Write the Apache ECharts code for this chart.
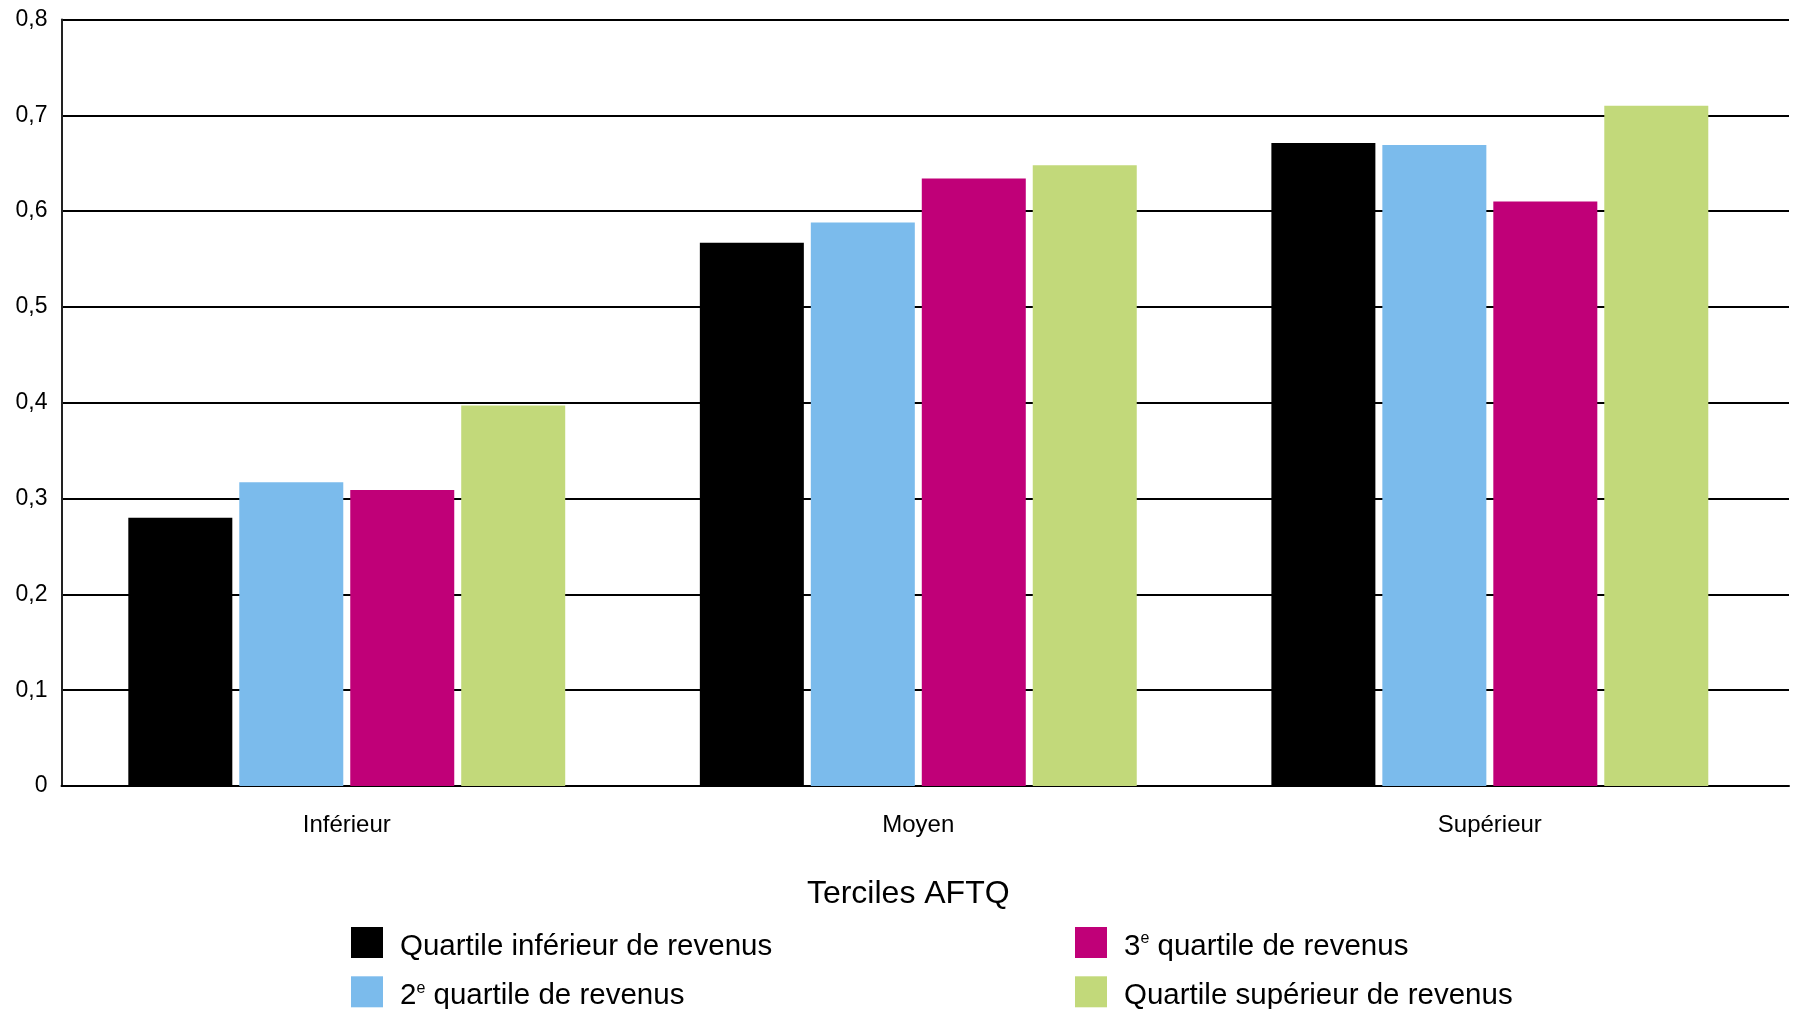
<!DOCTYPE html>
<html>
<head>
<meta charset="utf-8">
<title>Terciles AFTQ</title>
<script src="https://cdn.jsdelivr.net/npm/echarts@6/dist/echarts.min.js"></script>
<style>
  html, body { margin: 0; padding: 0; background: #fff; }
  #chart { width: 1795px; height: 1009px; }
</style>
</head>
<body>
<div id="chart"></div>
<script>
// catégories (terciles AFTQ)
const categories = ['Inférieur', 'Moyen', 'Supérieur']
// noms des séries (quartiles de revenus)
const seriesNames = [
  'Quartile inférieur de revenus',
  '2e quartile de revenus',
  '3e quartile de revenus',
  'Quartile supérieur de revenus'
]
// valeurs
const quartileInferieur = [0.28, 0.567, 0.671]
const quartile2 = [0.317, 0.588, 0.669]
const quartile3 = [0.309, 0.634, 0.61]
const quartileSuperieur = [0.397, 0.648, 0.71]
const colors = ['#000000', '#7BBBEC', '#C00078', '#C2D97A']

const FONT = 'Liberation Sans, Arial, sans-serif'
const chart = echarts.init(document.getElementById('chart'))

function createSerie(name, data, color) {
  return {
    name: name,
    type: 'bar',
    xAxisIndex: 1,
    yAxisIndex: 1,
    data: data,
    barWidth: 104,
    barGap: '6.7%',
    itemStyle: { color: color },
    animation: false
  }
}

// 2e / 3e avec exposant
function legendFormatter(name) {
  const m = name.match(/^(\d)e (.*)$/)
  if (m) return m[1] + '{sup|e} ' + m[2]
  return name
}

const legendText = {
  fontFamily: FONT,
  fontSize: 29.5,
  lineHeight: 31,
  color: '#000',
  padding: [8, 0, 0, 12],
  rich: {
    sup: { fontSize: 16, lineHeight: 31, verticalAlign: 'top', padding: [0, 0, 14, 0], fontFamily: FONT }
  }
}

function makeLegend(names, left) {
  return {
    data: names,
    orient: 'vertical',
    left: left,
    top: 923,
    height: 200,
    padding: 0,
    itemWidth: 32,
    itemHeight: 31,
    itemGap: 10.3,
    icon: 'rect',
    selectedMode: false,
    formatter: legendFormatter,
    textStyle: legendText
  }
}

chart.setOption({
  animation: false,
  // grille 0 : axes et lignes de repère ; grille 1 : barres et étiquettes
  grid: [
    { left: 61.5, right: 6, top: 19.5, bottom: 223, containLabel: false },
    { left: 61, right: 19.4, top: 19.5, bottom: 223, containLabel: false }
  ],
  legend: [
    makeLegend([seriesNames[0], seriesNames[1]], 351),
    makeLegend([seriesNames[2], seriesNames[3]], 1075)
  ],
  xAxis: [
    {
      type: 'category',
      gridIndex: 0,
      data: categories,
      name: 'Terciles AFTQ',
      nameLocation: 'middle',
      nameGap: 92,
      nameTextStyle: {
        fontFamily: FONT,
        fontSize: 32,
        color: '#000',
        padding: [0, 34, 0, 0]
      },
      axisLine: { lineStyle: { color: '#000', width: 2 } },
      axisTick: { show: false },
      axisLabel: { show: false }
    },
    {
      type: 'category',
      gridIndex: 1,
      data: categories,
      axisLine: { show: false },
      axisTick: { show: false },
      axisLabel: {
        margin: 27,
        fontFamily: FONT,
        fontSize: 24,
        color: '#000'
      }
    }
  ],
  yAxis: [
    {
      type: 'value',
      gridIndex: 0,
      min: 0,
      max: 0.8,
      interval: 0.1,
      axisLine: { show: true, lineStyle: { color: '#222', width: 2 } },
      axisTick: { show: false },
      splitLine: { lineStyle: { color: '#000', width: 2 } },
      axisLabel: {
        margin: 14,
        fontFamily: FONT,
        fontSize: 23,
        color: '#000',
        formatter: (v) => String(+v.toFixed(1)).replace('.', ',')
      }
    },
    {
      type: 'value',
      gridIndex: 1,
      min: 0,
      max: 0.8,
      interval: 0.1,
      show: false,
      splitLine: { show: false }
    }
  ],
  series: [
    createSerie(seriesNames[0], quartileInferieur, colors[0]),
    createSerie(seriesNames[1], quartile2, colors[1]),
    createSerie(seriesNames[2], quartile3, colors[2]),
    createSerie(seriesNames[3], quartileSuperieur, colors[3])
  ]
})
</script>
</body>
</html>
